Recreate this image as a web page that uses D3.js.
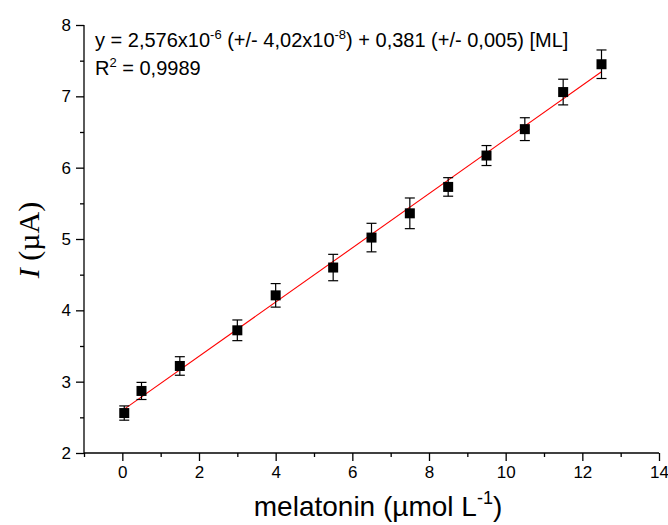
<!DOCTYPE html>
<html>
<head>
<meta charset="utf-8">
<script src="https://cdn.jsdelivr.net/npm/d3@7"></script>
<style>
  html, body { margin: 0; padding: 0; background: #fff; }
  svg { display: block; }
</style>
</head>
<body>
<svg id="chart" width="668" height="525"></svg>
<script>
// ---- data ----
const concentrations = [0.05, 0.5, 1.5, 3.0, 4.0, 5.5, 6.5, 7.5, 8.5, 9.5, 10.5, 11.5, 12.5];
const currents       = [2.56, 2.87, 3.22, 3.72, 4.21, 4.60, 5.02, 5.36, 5.73, 6.17, 6.54, 7.06, 7.45];
const errors         = [0.10, 0.12, 0.13, 0.145, 0.165, 0.185, 0.20, 0.215, 0.13, 0.14, 0.16, 0.18, 0.20];
const fitX = [0.05, 12.5];
const fitY = [2.615, 7.345];
const xTicks = [0, 2, 4, 6, 8, 10, 12, 14];
const xMinorTicks = [-1, 1, 3, 5, 7, 9, 11, 13];
const yTicks = [2, 3, 4, 5, 6, 7, 8];
const yMinorTicks = [2.5, 3.5, 4.5, 5.5, 6.5, 7.5];

const svg = d3.select("#chart");
const margin = {left: 84, right: 9, top: 25, bottom: 72};
const W = 668, H = 525;

const x = d3.scaleLinear().domain([-1, 14]).range([margin.left, W - margin.right]);
const y = d3.scaleLinear().domain([2, 8]).range([H - margin.bottom, margin.top]);

const sans = "'Liberation Sans', Arial, sans-serif";
const serif = "'Liberation Serif', 'Times New Roman', serif";

// X axis
const gx = svg.append("g").attr("transform", `translate(0,${y(2)})`);
gx.call(d3.axisBottom(x).tickValues(xTicks).tickSize(8).tickPadding(5).tickFormat(d3.format("d")));
gx.append("g").call(d3.axisBottom(x).tickValues(xMinorTicks).tickSize(4).tickFormat(""))
  .select(".domain").remove();
gx.selectAll("text").style("font-family", sans).style("font-size", "17px").attr("fill", "#000");
gx.selectAll("line, path").attr("stroke", "#000").attr("stroke-width", 1.3);

// Y axis
const gy = svg.append("g").attr("transform", `translate(${x(-1)},0)`);
gy.call(d3.axisLeft(y).tickValues(yTicks).tickSize(8).tickPadding(5).tickFormat(d3.format("d")));
gy.append("g").call(d3.axisLeft(y).tickValues(yMinorTicks).tickSize(4).tickFormat(""))
  .select(".domain").remove();
gy.selectAll("text").style("font-family", sans).style("font-size", "17px").attr("fill", "#000");
gy.selectAll("line, path").attr("stroke", "#000").attr("stroke-width", 1.3);
gx.select(".domain").attr("d", `M${x(-1)},0H${x(14)}`);
gy.select(".domain").attr("d", `M0,${y(8)}V${y(2)}`);

// fit line
const line = d3.line().x((d) => x(d[0])).y((d) => y(d[1]));
svg.append("path")
  .datum(fitX.map((v, i) => [v, fitY[i]]))
  .attr("d", line)
  .attr("fill", "none")
  .attr("stroke", "#ff0000")
  .attr("stroke-width", 1.1);

// error bars
const pts = concentrations.map((c, i) => ({x: c, y: currents[i], e: errors[i]}));
const eb = svg.append("g").attr("stroke", "#000").attr("stroke-width", 1.2);
pts.forEach(p => {
  eb.append("line").attr("x1", x(p.x)).attr("x2", x(p.x)).attr("y1", y(p.y - p.e)).attr("y2", y(p.y + p.e));
  [p.y - p.e, p.y + p.e].forEach(v => {
    eb.append("line").attr("x1", x(p.x) - 5).attr("x2", x(p.x) + 5).attr("y1", y(v)).attr("y2", y(v));
  });
});

// markers
svg.append("g").selectAll("rect").data(pts).join("rect")
  .attr("x", d => x(d.x) - 5).attr("y", d => y(d.y) - 5)
  .attr("width", 10).attr("height", 10).attr("fill", "#000");

// equation text
const eq = svg.append("text").attr("x", 95).attr("y", 47)
  .style("font-family", sans).style("font-size", "20px").attr("fill", "#000");
eq.append("tspan").text("y = 2,576x10");
eq.append("tspan").attr("dy", -8).style("font-size", "13px").text("-6");
eq.append("tspan").attr("dy", 8).text(" (+/- 4,02x10");
eq.append("tspan").attr("dy", -8).style("font-size", "13px").text("-8");
eq.append("tspan").attr("dy", 8).text(") + 0,381 (+/- 0,005) [ML]");

const r2 = svg.append("text").attr("x", 95).attr("y", 75)
  .style("font-family", sans).style("font-size", "20px").attr("fill", "#000");
r2.append("tspan").text("R");
r2.append("tspan").attr("dy", -8).style("font-size", "13px").text("2");
r2.append("tspan").attr("dy", 8).text(" = 0,9989");

// x label
const xl = svg.append("text").attr("x", 378).attr("y", 516).attr("text-anchor", "middle")
  .style("font-family", sans).style("font-size", "28px").attr("fill", "#000");
xl.append("tspan").text("melatonin (µmol L");
xl.append("tspan").attr("dy", -12).style("font-size", "18px").text("-1");
xl.append("tspan").attr("dy", 12).text(")");

// y label
const yl = svg.append("text").attr("transform", "translate(39,240) rotate(-90)")
  .attr("text-anchor", "middle")
  .style("font-family", serif).style("font-size", "30px").attr("fill", "#000");
yl.append("tspan").style("font-style", "italic").text("I");
yl.append("tspan").text(" (µA)");
</script>
</body>
</html>
